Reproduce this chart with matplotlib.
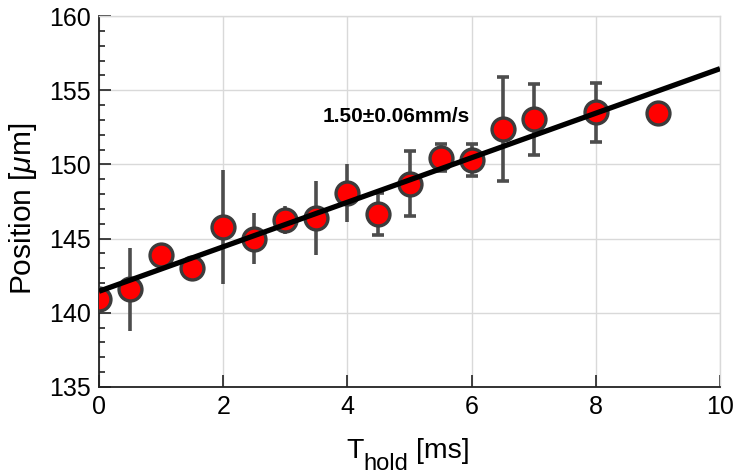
import numpy as np
import matplotlib
matplotlib.use("Agg")
import matplotlib.pyplot as plt
from matplotlib.ticker import MultipleLocator

plt.rcParams['font.family'] = ['Liberation Sans', 'DejaVu Sans']
plt.rcParams['mathtext.fontset'] = 'custom'
plt.rcParams['mathtext.rm'] = 'Liberation Sans'
plt.rcParams['mathtext.it'] = 'Liberation Sans:italic'

# Hold time [ms], position [um] and its uncertainty (0 = no error bar)
t_hold = [0.0, 0.5, 1.0, 1.5, 2.0, 2.5, 3.0, 3.5, 4.0, 4.5, 5.0, 5.5, 6.0, 6.5, 7.0, 8.0, 9.0]
position = [140.9, 141.6, 143.9, 143.0, 145.8, 145.0, 146.25, 146.4, 148.1, 146.65,
            148.7, 150.45, 150.3, 152.4, 153.05, 153.5, 153.45]
pos_err = [0.0, 2.8, 0.0, 0.0, 3.85, 1.7, 0.95, 2.5, 1.95, 1.4,
           2.2, 0.9, 1.1, 3.5, 2.4, 2.0, 0.0]

# Linear fit: velocity 1.50 um/ms (= mm/s)
fit_slope = 1.50
fit_intercept = 141.45
fit_label = "1.50±0.06mm/s"

t = np.array(t_hold)
y = np.array(position)
e = np.array(pos_err)

W, H = 736, 476
fig = plt.figure(figsize=(W / 100, H / 100), dpi=100)
ax = fig.add_axes([99 / W, 1 - 387 / H, 621 / W, 371 / H])

bar_color = '#4d4d4d'
has_err = e > 0
no_cap = has_err & (t < 4.25)
with_cap = has_err & (t >= 4.25)
ax.errorbar(t[no_cap], y[no_cap], yerr=e[no_cap], fmt='none', ecolor=bar_color,
            elinewidth=2.6, capsize=0, zorder=2)
ax.errorbar(t[with_cap], y[with_cap], yerr=e[with_cap], fmt='none', ecolor=bar_color,
            elinewidth=2.6, capsize=4, capthick=2.6, zorder=2)

ax.plot(t, y, 'o', markersize=16.5, markerfacecolor='#ff0000',
        markeredgecolor='#3c3c3c', markeredgewidth=2.4, zorder=3)

xl = np.array([0.0, 10.0])
ax.plot(xl, fit_intercept + fit_slope * xl, color='black', linewidth=3.8,
        solid_capstyle='butt', zorder=4)

ax.text(3.6, 153.25, fit_label, fontsize=15, fontweight='bold',
        ha='left', va='center', zorder=5)

ax.set_xlim(0, 10)
ax.set_ylim(135, 160)
ax.xaxis.set_major_locator(MultipleLocator(2))
ax.yaxis.set_major_locator(MultipleLocator(5))
ax.yaxis.set_minor_locator(MultipleLocator(1))
ax.tick_params(axis='both', which='major', direction='in', length=8.5, width=1.2,
               labelsize=18, color='#222222', pad=6, top=False, right=False)
ax.tick_params(axis='y', which='minor', direction='in', length=4.5, width=1.2,
               color='#222222', right=False)

ax.grid(True, which='major', color='#d9d9d9', linewidth=1.0)
ax.set_axisbelow(True)
for side in ('left', 'bottom'):
    ax.spines[side].set_color('#222222')
    ax.spines[side].set_linewidth(1.3)
for side in ('top', 'right'):
    ax.spines[side].set_color('#d9d9d9')
    ax.spines[side].set_linewidth(1.0)

# x label with a large, deeply lowered subscript
fig.text(346 / W, 1 - 458 / H, 'T', fontsize=20.5, ha='left', va='baseline')
fig.text(363 / W, 1 - 470 / H, 'hold', fontsize=17, ha='left', va='baseline')
fig.text(416 / W, 1 - 458 / H, '[ms]', fontsize=20.5, ha='left', va='baseline')

ax.set_ylabel(r'Position [$\mu$m]', fontsize=21.5)
ax.yaxis.set_label_coords(-0.097, 0.48)

fig.savefig('out.png', dpi=100)
